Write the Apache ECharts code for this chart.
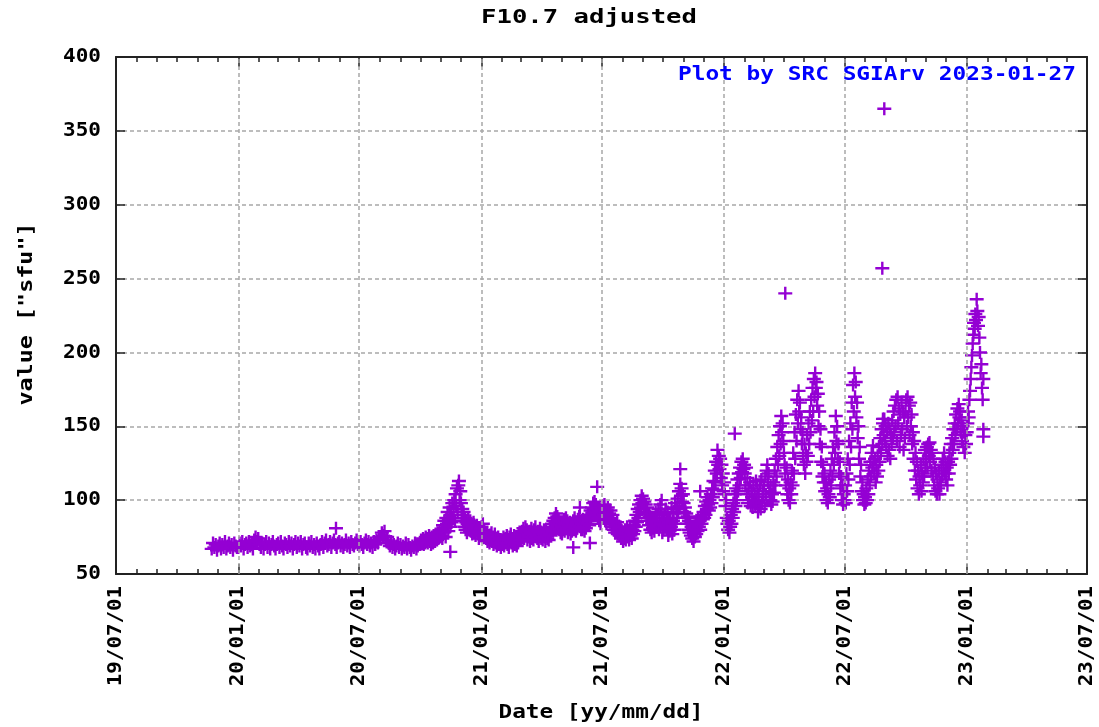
<!DOCTYPE html>
<html><head><meta charset="utf-8">
<script src="https://cdn.jsdelivr.net/npm/echarts@6/dist/echarts.min.js"></script>
<style>html,body{margin:0;padding:0;background:#fff}#c{width:1099px;height:727px}</style>
</head><body><div id="c"></div>
<script>
// ---------- texts ----------
const titleText = 'F10.7 adjusted';
const creditText = 'Plot by SRC SGIArv 2023-01-27';
const xName = 'Date [yy/mm/dd]';
const yName = 'value ["sfu"]';

// ---------- axes ----------
const xMin = '2019-07-01';
const xMax = '2023-07-01';
const xMajorTicks = ['2019-07-01','2020-01-01','2020-07-01','2021-01-01','2021-07-01','2022-01-01','2022-07-01','2023-01-01','2023-07-01'];
const yTicks = [50, 100, 150, 200, 250, 300, 350, 400];

// ---------- data ----------
// Nov 2019 - Sep 2020: one reading every 2 days
const step2019 = 2;
const start2019 = '2019-11-22';
const vals2019 = [67,71,68,70,66,69,71,67,70,68,72,67,69,71,68,70,66,71,69,68];
const step2020 = 2;
const start2020 = '2020-01-01';
const vals2020 = [
  68,71,69,72,67,70,71,68,72,69,70,67,73,75,72,74,
  70,68,71,67,70,72,68,71,67,70,72,69,67,70,
  71,68,72,69,67,71,70,68,72,69,71,67,70,72,68,71,
  69,72,67,70,71,68,67,71,69,72,68,70,67,71,69,
  67,70,72,68,71,73,69,70,72,68,71,73,70,68,71,
  72,69,71,68,70,73,69,71,68,72,70,69,71,73,70,
  69,72,70,68,71,73,70,72,69,71,68,72,70,73,71,75,
  74,78,76,79,73,75,71,69,72,68,70,67,69,71,68,
  70,67,69,68,71,67,70,68,66,69,68,71,67,69,70
];
// Oct 2020 onwards: one reading per day
const step2020q4 = 1;
const start2020q4 = '2020-10-01';
const vals2020q4 = [
  70,73,71,72,74,70,73,71,75,72,74,71,73,76,72,74,70,75,73,71,76,74,72,77,75,73,78,74,76,79,75,
  76,80,74,83,78,86,81,75,88,84,92,79,86,95,82,90,85,98,88,94,100,86,104,96,108,92,110,113,100,106,
  98,90,94,86,92,82,88,80,85,78,84,87,80,83,86,79,84,77,82,85,78,81,76,80,83,77,79,74,78,81,76
];
const step2021 = 1;
const start2021 = '2021-01-01';
const vals2021 = [
  82,79,84,77,80,76,78,74,77,72,75,73,71,76,74,78,72,75,70,73,77,71,74,69,72,75,70,73,71,68,72,
  73,70,75,69,72,74,71,76,70,73,68,75,72,77,71,74,69,73,76,70,72,75,69,74,71,77,73,75,
  76,73,79,75,81,74,78,82,76,80,73,77,75,79,72,78,81,74,77,73,80,76,82,75,78,74,79,72,77,81,75,
  74,78,73,77,80,75,72,79,76,74,78,73,77,81,76,80,84,79,86,82,88,84,91,86,89,83,87,80,85,78,
  82,77,85,80,87,79,84,88,81,86,78,83,80,85,77,82,79,84,86,80,88,83,79,85,81,87,84,89,82,86,80,
  84,80,87,82,79,85,81,88,84,90,86,83,89,93,87,95,91,98,94,99,92,97,90,95,88,93,86,91,84,89,
  93,88,96,90,97,86,92,84,89,95,87,91,85,93,88,82,90,86,80,84,78,83,80,85,77,81,79,76,82,74,78,
  75,72,78,74,80,73,77,82,75,79,73,81,76,78,74,80,77,83,79,86,82,90,85,94,88,97,92,100,95,103,98,
  101,94,99,92,97,88,95,86,91,83,89,80,86,78,84,81,88,79,85,92,83,90,86,94,80,88,97,84,91,78,
  86,80,90,83,94,87,81,92,76,85,79,88,82,95,77,86,91,80,98,84,94,88,101,92,106,96,111,103,108,99,104,
  98,92,95,88,91,84,89,80,86,78,84,76,82,74,80,72,78,75,83,77,85,79,88,82,86,80,89,84,90,87,
  92,88,96,90,99,94,102,97,93,100,95,104,98,108,102,113,107,120,112,126,118,134,124,130,121,128,115,124,110,118,106
];
const step2022 = 1;
const start2022 = '2022-01-01';
const vals2022 = [
  112,104,96,100,88,84,80,86,78,82,90,84,94,88,98,92,104,96,108,100,114,106,118,110,122,115,126,119,128,121,124,
  118,110,122,104,115,98,108,100,112,96,106,102,95,110,99,104,97,113,100,108,92,104,96,110,94,114,98,106,
  102,110,96,116,104,120,124,112,118,106,100,110,97,104,99,112,105,120,110,128,116,136,124,144,130,150,138,157,146,152,140,
  132,124,118,110,122,104,114,100,108,98,112,104,120,110,132,118,146,128,158,140,168,152,174,160,166,148,156,138,146,130,
  124,138,118,132,126,144,130,152,138,160,146,168,154,176,160,182,170,186,176,180,164,172,150,160,138,148,126,136,116,124,112,
  118,106,112,100,108,98,104,114,102,120,110,128,116,136,124,146,132,157,140,150,128,138,118,126,108,116,100,110,97,104,
  100,110,98,118,106,128,114,140,124,152,136,166,148,178,160,186,170,180,156,166,142,150,128,136,116,124,106,112,100,104,97,
  102,98,108,100,114,104,120,110,126,116,132,122,137,126,118,128,112,124,116,130,120,136,126,142,132,148,138,152,144,155,140,
  150,136,146,130,152,134,148,128,144,138,154,142,160,146,164,150,168,140,170,152,162,136,158,144,166,148,160,134,156,142,
  160,168,150,170,156,164,144,166,150,158,138,146,128,140,120,132,114,126,108,120,104,116,110,124,106,118,112,128,116,134,122,
  128,136,122,138,130,139,126,134,120,132,116,128,110,122,106,118,104,114,108,120,104,112,110,124,116,128,120,132,118,126,
  114,122,110,126,118,132,124,138,128,142,134,148,138,152,144,158,148,162,152,165,156,160,146,154,140,150,136,146,132,144,138
];
const step2023 = 1;
const start2023 = '2023-01-01';
const vals2023 = [146,152,160,156,168,174,182,190,198,206,212,220,216,226,222,236,228,218,224,210,200,186,192,176,168,182];

// isolated readings [date, value]
const outliers = [
  ['2020-05-27', 81], ['2020-11-15', 65], ['2021-05-19', 68], ['2021-05-29', 95],
  ['2021-06-13', 71], ['2021-06-24', 109], ['2021-09-29', 100], ['2021-10-27', 121],
  ['2021-11-26', 106], ['2022-01-17', 145], ['2022-04-03', 240], ['2022-08-27', 257],
  ['2022-08-28', 155], ['2022-08-30', 365], ['2023-01-26', 148], ['2023-01-26', 143]
];

// ---------- build ----------
const DAY = 86400000;
const toTs = s => Date.parse(s + 'T00:00:00Z');
const fromBlock = (start, step, vals) => vals.map((v, i) => [toTs(start) + i * step * DAY, v]);
const points = [].concat(
  fromBlock(start2019, step2019, vals2019), fromBlock(start2020, step2020, vals2020),
  fromBlock(start2020q4, step2020q4, vals2020q4),
  fromBlock(start2021, step2021, vals2021), fromBlock(start2022, step2022, vals2022),
  fromBlock(start2023, step2023, vals2023),
  outliers.map(o => [toTs(o[0]), o[1]])
);
const xMinTs = toTs(xMin), xMaxTs = toTs(xMax);
const majorTs = xMajorTicks.map(toTs);
const minorTs = [];
{
  const d0 = new Date(xMinTs);
  let y = d0.getUTCFullYear(), m = d0.getUTCMonth();
  while (true) {
    const t = Date.UTC(y, m, 1);
    if (t > xMaxTs) break;
    minorTs.push(t);
    m++; if (m > 11) { m = 0; y++; }
  }
}
const pad = n => (n < 10 ? '0' : '') + n;
const fmtDate = t => { const d = new Date(t); return pad(d.getUTCFullYear() % 100) + '/' + pad(d.getUTCMonth() + 1) + '/' + pad(d.getUTCDate()); };

const AX = '#222';
const GRID = '#a8a8a8';
const mkX = (pos, ticks, len, showLine) => ({
  type: 'value', min: xMinTs, max: xMaxTs, position: pos,
  axisLine: { show: showLine, onZero: false, lineStyle: { color: AX, width: 2 } },
  axisTick: { show: true, inside: true, length: len, customValues: ticks, lineStyle: { color: AX, width: 1.5 } },
  axisLabel: { show: false }, splitLine: { show: false }
});
const mkY = (pos, split) => ({
  type: 'value', min: 50, max: 400, interval: 50, position: pos,
  axisLine: { show: true, onZero: false, lineStyle: { color: AX, width: 2 } },
  axisTick: { show: true, inside: true, length: 9, lineStyle: { color: AX, width: 1.5 } },
  axisLabel: { show: false },
  splitLine: { show: split, lineStyle: { color: GRID, type: [4, 3], width: 1.5 } }
});

const chart = echarts.init(document.getElementById('c'), null, { renderer: 'canvas' });
chart.setOption({
  animation: false,
  backgroundColor: '#fff',
  grid: { left: 116, right: 12, top: 57, bottom: 153 },
  xAxis: [mkX('bottom', minorTs, 5, true), mkX('bottom', majorTs, 10, false),
          mkX('top', minorTs, 5, true), mkX('top', majorTs, 10, false)],
  yAxis: [mkY('left', true), mkY('right', false)],
  series: [
    {
      type: 'scatter', xAxisIndex: 0, yAxisIndex: 0, data: [], z: 1, silent: true,
      markLine: {
        silent: true, symbol: ['none', 'none'], label: { show: false }, animation: false,
        lineStyle: { color: GRID, type: [4, 3], width: 1.5 },
        emphasis: { disabled: true },
        data: majorTs.slice(1, -1).map(t => ({ xAxis: t }))
      }
    },
    {
      type: 'scatter', xAxisIndex: 0, yAxisIndex: 0, z: 3, silent: true,
      symbol: 'path://M0,5.3H5.8V0H8.2V5.3H14V7.7H8.2V13H5.8V7.7H0Z',
      symbolSize: [14, 13],
      itemStyle: { color: '#9400d3', opacity: 1 },
      emphasis: { disabled: true },
      data: points
    }
  ]
});

const FONT = 'bold 20px "DejaVu Sans Mono"';
const txt = (text, x, y, opts) => Object.assign({
  type: 'text', x, y, z: 10, silent: true,
  style: { text, font: FONT, fill: opts.fill || '#000',
           align: opts.align, textAlign: opts.align,
           verticalAlign: 'middle', textVerticalAlign: 'middle' }
}, opts.el || {});

const els = [];
els.push(txt(titleText, 589, 18, { align: 'center', el: { scaleX: 1.28 } }));
els.push(txt(creditText, 1076, 75, { align: 'right', fill: '#0000ff', el: { scaleX: 1.14 } }));
els.push(txt(xName, 601, 713, { align: 'center', el: { scaleX: 1.135 } }));
els.push(txt(yName, 27, 314, { align: 'center', el: { scaleX: 1.17, rotation: Math.PI / 2 } }));
yTicks.forEach(v => {
  const py = chart.convertToPixel({ yAxisIndex: 0 }, v);
  els.push(txt(String(v), 101, py, { align: 'right', el: { scaleX: 1.05 } }));
});
majorTs.forEach(t => {
  const px = chart.convertToPixel({ xAxisIndex: 0 }, t);
  els.push(txt(fmtDate(t), px, 586, { align: 'right', el: { scaleX: 1.04, rotation: Math.PI / 2 } }));
});
chart.setOption({ graphic: { elements: els } });
</script>
</body></html>
